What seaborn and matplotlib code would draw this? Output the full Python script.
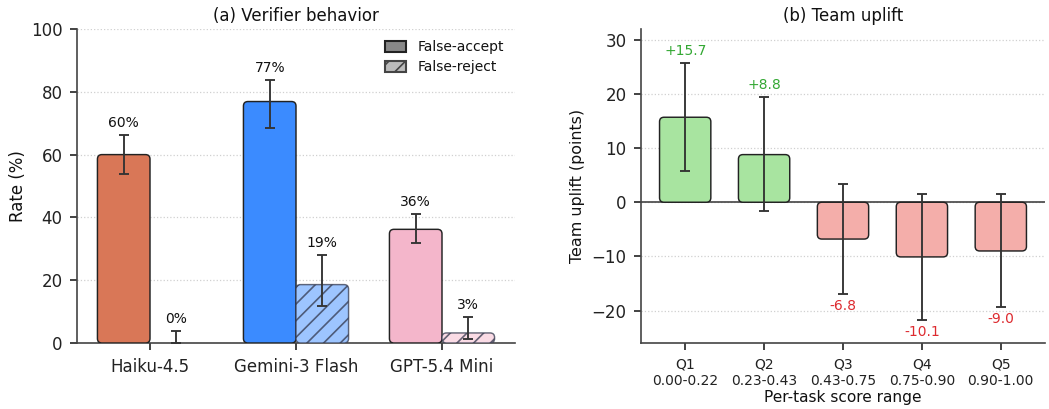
import matplotlib

matplotlib.use("Agg")
import matplotlib.pyplot as plt
import numpy as np
import pandas as pd
import seaborn as sns
from matplotlib.patches import FancyBboxPatch, Patch

# (a) verifier behaviour
models = ["Haiku-4.5", "Gemini-3 Flash", "GPT-5.4 Mini"]
false_accept = [60.0, 76.9, 36.2]
fa_low = [53.7, 68.4, 31.9]
fa_high = [66.2, 83.8, 41.0]
false_reject = [0.0, 18.6, 3.2]
fr_low = [0.0, 11.7, 1.2]
fr_high = [3.7, 28.1, 8.2]
model_colors = ["#d97757", "#3b8bff", "#f4b6cb"]

# (b) team uplift per quintile
quintiles = ["Q1", "Q2", "Q3", "Q4", "Q5"]
score_ranges = ["0.00-0.22", "0.23-0.43", "0.43-0.75", "0.75-0.90", "0.90-1.00"]
uplift = [15.7, 8.8, -6.8, -10.1, -9.0]
uplift_low = [5.8, -1.7, -17.0, -21.7, -19.4]
uplift_high = [25.7, 19.4, 3.3, 1.5, 1.5]

sns.set_style("ticks")
plt.rcParams["font.family"] = ["DejaVu Sans"]
plt.rcParams["axes.edgecolor"] = "#444444"
plt.rcParams["axes.linewidth"] = 0.8
plt.rcParams["xtick.color"] = "#222222"
plt.rcParams["ytick.color"] = "#222222"
plt.rcParams["text.color"] = "#111111"
plt.rcParams["axes.labelcolor"] = "#111111"
plt.rcParams["hatch.linewidth"] = 0.8

ERR = dict(fmt="none", ecolor="#333333", elinewidth=0.9, capsize=2.4, capthick=0.9, zorder=4)


def round_bars(ax, radius_px=4.5):
    bbox = ax.get_window_extent()
    x0, x1 = ax.get_xlim()
    y0, y1 = ax.get_ylim()
    xpp = (x1 - x0) / bbox.width
    ypp = (y1 - y0) / bbox.height
    for p in list(ax.patches):
        h = p.get_height()
        if h == 0:
            p.remove()
            continue
        y = min(p.get_y(), p.get_y() + h)
        fb = FancyBboxPatch(
            (p.get_x(), y), p.get_width(), abs(h),
            boxstyle=f"round,pad=0,rounding_size={radius_px * xpp}",
            mutation_aspect=ypp / xpp,
            facecolor=p.get_facecolor(), edgecolor=p.get_edgecolor(),
            linewidth=p.get_linewidth(), hatch=p.get_hatch(), zorder=p.get_zorder(),
        )
        p.remove()
        ax.add_patch(fb)


fig = plt.figure(figsize=(1049 / 150, 409 / 150), dpi=150)
ax1 = fig.add_axes([77 / 1049, 66 / 409, 438 / 1049, 314 / 409])
ax2 = fig.add_axes([641 / 1049, 66 / 409, 404 / 1049, 314 / 409])

# ---- panel (a)
df_a = pd.DataFrame({
    "model": models * 2,
    "kind": ["False-accept"] * 3 + ["False-reject"] * 3,
    "rate": false_accept + false_reject,
})
sns.barplot(data=df_a, x="model", y="rate", hue="kind", width=0.72, gap=0,
            errorbar=None, legend=False, saturation=1, ax=ax1, zorder=3)
fa_bars = ax1.patches[:3]
fr_bars = ax1.patches[3:6]
for bar, c in zip(fa_bars, model_colors):
    bar.set_facecolor(c)
    bar.set_edgecolor("#222222")
    bar.set_linewidth(0.7)
for bar, c in zip(fr_bars, model_colors):
    rgb = np.array(matplotlib.colors.to_rgb(c))
    bar.set_facecolor(tuple(rgb * 0.5 + 0.5))
    bar.set_edgecolor((0.2, 0.22, 0.3, 0.75))
    bar.set_linewidth(0.7)
    bar.set_hatch("///")

fa_x = [b.get_x() + b.get_width() / 2 for b in fa_bars]
fr_x = [b.get_x() + b.get_width() / 2 for b in fr_bars]
ax1.errorbar(fa_x, false_accept,
             yerr=[np.subtract(false_accept, fa_low), np.subtract(fa_high, false_accept)], **ERR)
ax1.errorbar(fr_x, false_reject,
             yerr=[np.subtract(false_reject, fr_low), np.subtract(fr_high, false_reject)], **ERR)
for x, v, hi in zip(fa_x + fr_x, false_accept + false_reject, fa_high + fr_high):
    ax1.annotate(f"{v:.0f}%", (x, hi), xytext=(0, 2.5), textcoords="offset points",
                 ha="center", va="bottom", fontsize=6.7, zorder=5)

ax1.set_xlim(-0.5, 2.5)
ax1.set_ylim(0, 100)
ax1.set_yticks([0, 20, 40, 60, 80, 100])
ax1.set_xlabel("")
ax1.set_ylabel("Rate (%)", fontsize=8, labelpad=2)
ax1.set_title("(a) Verifier behavior", fontsize=8, pad=4)
ax1.tick_params(axis="both", labelsize=8, width=0.8)
ax1.grid(axis="y", linestyle=":", color="#d0d0d0", linewidth=0.6, zorder=0)
sns.despine(ax=ax1)
ax1.legend(handles=[Patch(facecolor="#888888", edgecolor="#222222", label="False-accept"),
                    Patch(facecolor="#bbbbbb", edgecolor="#444444", hatch="///", label="False-reject")],
           loc="upper right", frameon=False, fontsize=6.7, handlelength=1.5,
           handleheight=0.9, borderaxespad=0.4, labelspacing=0.45)

# ---- panel (b)
tick_labels = [f"{q}\n{r}" for q, r in zip(quintiles, score_ranges)]
df_b = pd.DataFrame({"bucket": tick_labels, "uplift": uplift})
bar_colors = ["#a8e4a0" if v > 0 else "#f4aeaa" for v in uplift]
sns.barplot(data=df_b, x="bucket", y="uplift", hue="bucket", palette=bar_colors,
            width=0.65, errorbar=None, legend=False, saturation=1, ax=ax2, zorder=3,
            edgecolor="#222222", linewidth=0.7)
bx = [b.get_x() + b.get_width() / 2 for b in ax2.patches]
ax2.errorbar(bx, uplift,
             yerr=[np.subtract(uplift, uplift_low), np.subtract(uplift_high, uplift)], **ERR)
for x, v, lo, hi in zip(bx, uplift, uplift_low, uplift_high):
    if v > 0:
        ax2.annotate(f"+{v:.1f}", (x, hi), xytext=(0, 2.5), textcoords="offset points",
                     ha="center", va="bottom", fontsize=6.7, color="#33a833", zorder=5)
    else:
        ax2.annotate(f"{v:.1f}", (x, lo), xytext=(0, -2.5), textcoords="offset points",
                     ha="center", va="top", fontsize=6.7, color="#dd2a2f", zorder=5)
ax2.axhline(0, color="#444444", linewidth=0.8, zorder=2)
ax2.set_xlim(-0.56, 4.56)
ax2.set_ylim(-26, 32)
ax2.set_yticks([-20, -10, 0, 10, 20, 30])
ax2.set_xlabel("Per-task score range", fontsize=7.4, labelpad=1)
ax2.set_ylabel("Team uplift (points)", fontsize=7.6, labelpad=3)
ax2.set_title("(b) Team uplift", fontsize=8, pad=4)
ax2.tick_params(axis="y", labelsize=8, width=0.8)
ax2.tick_params(axis="x", labelsize=6.7, width=0.8)
ax2.grid(axis="y", linestyle=":", color="#d0d0d0", linewidth=0.6, zorder=0)
sns.despine(ax=ax2)

fig.canvas.draw()
round_bars(ax1)
round_bars(ax2)

fig.savefig("out.png", dpi=150)
